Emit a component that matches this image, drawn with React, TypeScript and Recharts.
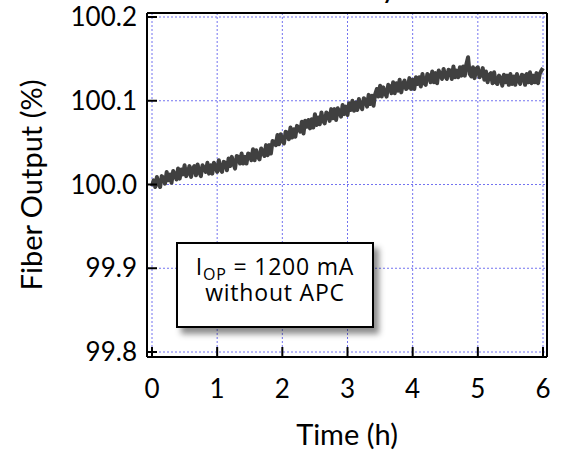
import React from 'react';
import { LineChart, Line, XAxis, YAxis, CartesianGrid } from 'recharts';

// time (h) of each sample
const times = [
  0, 0.025, 0.05, 0.075, 0.1, 0.125, 0.15, 0.175,
  0.2, 0.225, 0.25, 0.275, 0.3, 0.325, 0.35, 0.375,
  0.4, 0.425, 0.45, 0.475, 0.5, 0.525, 0.55, 0.575,
  0.6, 0.625, 0.65, 0.675, 0.7, 0.725, 0.75, 0.775,
  0.8, 0.825, 0.85, 0.875, 0.9, 0.925, 0.95, 0.975,
  1, 1.025, 1.05, 1.075, 1.1, 1.125, 1.15, 1.175,
  1.2, 1.225, 1.25, 1.275, 1.3, 1.325, 1.35, 1.375,
  1.4, 1.425, 1.45, 1.475, 1.5, 1.525, 1.55, 1.575,
  1.6, 1.625, 1.65, 1.675, 1.7, 1.725, 1.75, 1.775,
  1.8, 1.825, 1.85, 1.875, 1.9, 1.925, 1.95, 1.975,
  2, 2.025, 2.05, 2.075, 2.1, 2.125, 2.15, 2.175,
  2.2, 2.225, 2.25, 2.275, 2.3, 2.325, 2.35, 2.375,
  2.4, 2.425, 2.45, 2.475, 2.5, 2.525, 2.55, 2.575,
  2.6, 2.625, 2.65, 2.675, 2.7, 2.725, 2.75, 2.775,
  2.8, 2.825, 2.85, 2.875, 2.9, 2.925, 2.95, 2.975,
  3, 3.025, 3.05, 3.075, 3.1, 3.125, 3.15, 3.175,
  3.2, 3.225, 3.25, 3.275, 3.3, 3.325, 3.35, 3.375,
  3.4, 3.425, 3.45, 3.475, 3.5, 3.525, 3.55, 3.575,
  3.6, 3.625, 3.65, 3.675, 3.7, 3.725, 3.75, 3.775,
  3.8, 3.825, 3.85, 3.875, 3.9, 3.925, 3.95, 3.975,
  4, 4.025, 4.05, 4.075, 4.1, 4.125, 4.15, 4.175,
  4.2, 4.225, 4.25, 4.275, 4.3, 4.325, 4.35, 4.375,
  4.4, 4.425, 4.45, 4.475, 4.5, 4.525, 4.55, 4.575,
  4.6, 4.625, 4.65, 4.675, 4.7, 4.725, 4.75, 4.775,
  4.8, 4.825, 4.85, 4.875, 4.9, 4.925, 4.95, 4.975,
  5, 5.025, 5.05, 5.075, 5.1, 5.125, 5.15, 5.175,
  5.2, 5.225, 5.25, 5.275, 5.3, 5.325, 5.35, 5.375,
  5.4, 5.425, 5.45, 5.475, 5.5, 5.525, 5.55, 5.575,
  5.6, 5.625, 5.65, 5.675, 5.7, 5.725, 5.75, 5.775,
  5.8, 5.825, 5.85, 5.875, 5.9, 5.925, 5.95, 5.975,
  6,
];

// fiber output (%)
const fiberOutput = [
  99.998, 100.005, 99.997, 100.009, 100.001, 99.997, 100.01, 100.008,
  100.001, 100.015, 100.005, 100.012, 100.002, 100.016, 100.012, 100.006,
  100.019, 100.007, 100.018, 100.012, 100.023, 100.01, 100.014, 100.022,
  100.009, 100.019, 100.022, 100.011, 100.024, 100.015, 100.01, 100.023,
  100.02, 100.015, 100.026, 100.013, 100.023, 100.013, 100.026, 100.021,
  100.015, 100.029, 100.018, 100.015, 100.027, 100.026, 100.017, 100.031,
  100.022, 100.033, 100.025, 100.019, 100.034, 100.033, 100.025, 100.037,
  100.025, 100.033, 100.025, 100.037, 100.036, 100.029, 100.042, 100.029,
  100.041, 100.033, 100.03, 100.043, 100.039, 100.034, 100.047, 100.035,
  100.047, 100.037, 100.052, 100.051, 100.047, 100.059, 100.048, 100.06,
  100.052, 100.049, 100.063, 100.062, 100.054, 100.068, 100.056, 100.066,
  100.057, 100.07, 100.068, 100.063, 100.075, 100.061, 100.076, 100.069,
  100.077, 100.067, 100.078, 100.068, 100.084, 100.071, 100.08, 100.072,
  100.086, 100.076, 100.073, 100.086, 100.084, 100.076, 100.09, 100.079,
  100.09, 100.077, 100.091, 100.087, 100.081, 100.095, 100.084, 100.093,
  100.083, 100.097, 100.089, 100.1, 100.088, 100.098, 100.089, 100.102,
  100.094, 100.09, 100.103, 100.101, 100.093, 100.107, 100.096, 100.106,
  100.094, 100.108, 100.114, 100.105, 100.118, 100.105, 100.116, 100.109,
  100.105, 100.119, 100.117, 100.109, 100.122, 100.109, 100.121, 100.112,
  100.125, 100.11, 100.12, 100.124, 100.114, 100.116, 100.127, 100.114,
  100.125, 100.114, 100.128, 100.12, 100.128, 100.117, 100.132, 100.121,
  100.119, 100.132, 100.13, 100.122, 100.135, 100.122, 100.133, 100.121,
  100.136, 100.132, 100.126, 100.138, 100.129, 100.126, 100.137, 100.136,
  100.126, 100.141, 100.128, 100.136, 100.128, 100.14, 100.13, 100.141,
  100.13, 100.144, 100.152, 100.132, 100.129, 100.14, 100.127, 100.138,
  100.14, 100.128, 100.131, 100.139, 100.125, 100.135, 100.122, 100.131,
  100.133, 100.121, 100.134, 100.122, 100.12, 100.13, 100.127, 100.118,
  100.131, 100.122, 100.13, 100.119, 100.132, 100.12, 100.129, 100.119,
  100.132, 100.124, 100.12, 100.131, 100.13, 100.119, 100.132, 100.122,
  100.134, 100.121, 100.13, 100.122, 100.133, 100.121, 100.132, 100.136,
  100.139,
];

const xTicks = [0, 1, 2, 3, 4, 5, 6];
const yTicks = [99.8, 99.9, 100.0, 100.1, 100.2];

const data = times.map((t, i) => ({ t, v: fiberOutput[i] }));

const frame = { stroke: '#000', strokeWidth: 2 };
const tickFont = { fill: '#000', fontSize: 26 };

const XTitle = (props: any) => {
  const { viewBox } = props;
  const cx = viewBox.x + viewBox.width / 2;
  return (
    <text x={cx} y={viewBox.y + 88} textAnchor="middle" fontSize={29} fill="#000">
      Time (h)
    </text>
  );
};

const YTitle = (props: any) => {
  const { viewBox } = props;
  const cy = viewBox.y + viewBox.height / 2;
  const x = 30;
  return (
    <text
      x={x}
      y={cy}
      transform={`rotate(-90, ${x}, ${cy})`}
      textAnchor="middle"
      dominantBaseline="central"
      fontSize={29}
      fill="#000"
    >
      Fiber Output (%)
    </text>
  );
};

export default function App() {
  return (
    <div style={{ position: 'absolute', left: 0, top: 0, width: 563, height: 450, fontFamily: 'Lato, sans-serif', background: '#fff' }}>
      <LineChart width={563} height={450} data={data} margin={{ top: 12, right: 15, bottom: 0, left: 0 }}>
        <CartesianGrid stroke="#7373f0" strokeDasharray="2 2" />
        <XAxis
          dataKey="t"
          type="number"
          domain={[0, 6]}
          ticks={xTicks}
          interval={0}
          padding={{ left: 5, right: 4 }}
          height={93}
          axisLine={frame}
          tickLine={frame}
          tickSize={-10}
          tickMargin={33}
          tick={tickFont}
          label={<XTitle />}
        />
        <XAxis
          xAxisId="top"
          orientation="top"
          dataKey="t"
          type="number"
          domain={[0, 6]}
          ticks={xTicks}
          interval={0}
          padding={{ left: 5, right: 4 }}
          height={1}
          axisLine={frame}
          tickLine={frame}
          tickSize={-10}
          tick={false}
        />
        <YAxis
          type="number"
          domain={[99.8, 100.2]}
          ticks={yTicks}
          interval={0}
          padding={{ top: 4, bottom: 5 }}
          width={147}
          axisLine={frame}
          tickLine={frame}
          tickSize={-10}
          tickMargin={20}
          tick={tickFont}
          tickFormatter={(v: number) => v.toFixed(1)}
          label={<YTitle />}
        />
        <YAxis
          yAxisId="right"
          orientation="right"
          type="number"
          domain={[99.8, 100.2]}
          ticks={yTicks}
          interval={0}
          padding={{ top: 4, bottom: 5 }}
          width={1}
          axisLine={frame}
          tickLine={frame}
          tickSize={-10}
          tick={false}
        />
        <Line
          type="linear"
          dataKey="v"
          stroke="#404040"
          strokeWidth={4}
          strokeLinejoin="round"
          dot={false}
          isAnimationActive={false}
        />
      </LineChart>

      <svg style={{ position: 'absolute', left: 0, top: 0 }} width={563} height={12}>
        <text x={394} y={-1} textAnchor="end" fontSize={22} fontWeight="bold" fill="#000">
          Stability
        </text>
      </svg>

      <div
        style={{
          position: 'absolute',
          left: 176,
          top: 242,
          width: 194,
          height: 73,
          border: '2px solid #000',
          background: '#fff',
          boxShadow: '5px 6px 6px rgba(0,0,0,0.45)',
          fontFamily: '"Open Sans", sans-serif',
          fontSize: 23,
          letterSpacing: 0.8,
          color: '#000',
          textAlign: 'center',
          lineHeight: '26px',
          paddingTop: 9,
          boxSizing: 'content-box',
        }}
      >
        <div>
          I<sub style={{ fontSize: 16, verticalAlign: '-5px', lineHeight: 0 }}>OP</sub> = 1200 mA
        </div>
        <div>without APC</div>
      </div>
    </div>
  );
}
